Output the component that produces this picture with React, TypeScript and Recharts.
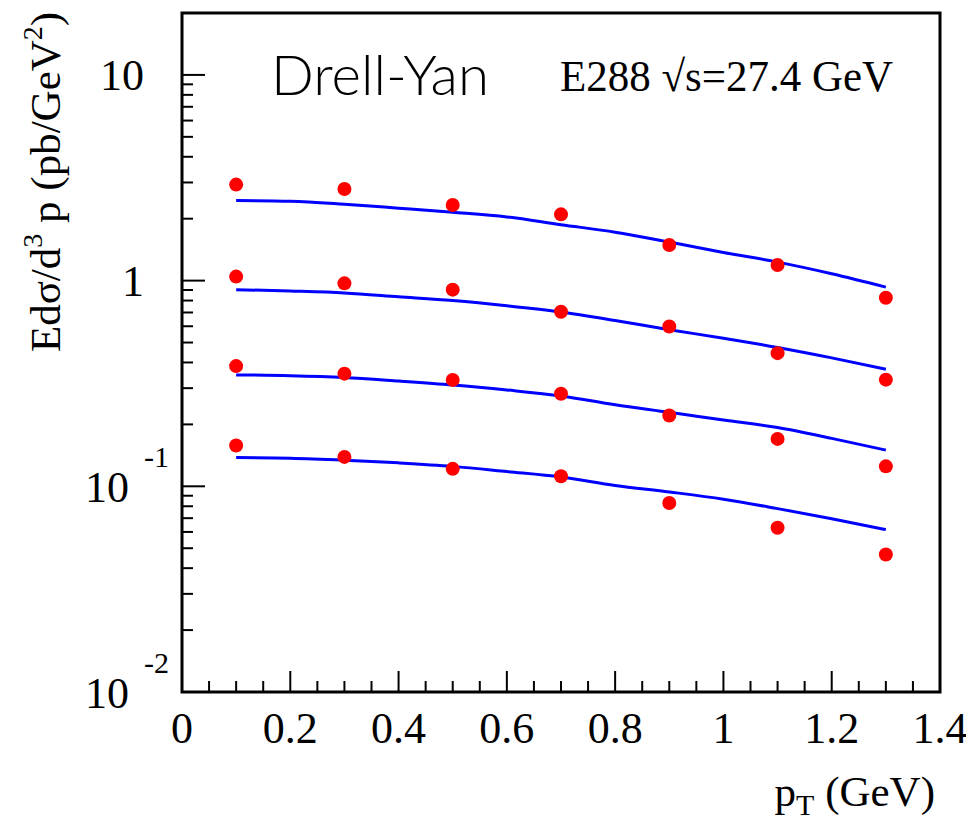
import React from 'react';
import { ComposedChart, Line, Scatter, XAxis, YAxis, ReferenceArea } from 'recharts';

// ---- data ----
const ptPoints = [0.1, 0.3, 0.5, 0.7, 0.9, 1.1, 1.3];
const dataSet1 = [2.93, 2.79, 2.33, 2.1, 1.49, 1.19, 0.826];
const dataSet2 = [1.046, 0.97, 0.904, 0.706, 0.598, 0.444, 0.33];
const dataSet3 = [0.384, 0.353, 0.329, 0.282, 0.221, 0.17, 0.125];
const dataSet4 = [0.158, 0.139, 0.1216, 0.112, 0.083, 0.0629, 0.0466];

const curveX = [0.1, 0.2, 0.3, 0.4, 0.5, 0.6, 0.7, 0.8, 0.9, 1.0, 1.1, 1.2, 1.3];
const curve1 = [2.45, 2.43, 2.35, 2.25, 2.15, 2.04, 1.87, 1.72, 1.54, 1.37, 1.23, 1.08, 0.93];
const curve2 = [0.904, 0.89, 0.871, 0.835, 0.8, 0.755, 0.704, 0.64, 0.577, 0.525, 0.473, 0.421, 0.371];
const curve3 = [0.348, 0.345, 0.338, 0.325, 0.311, 0.294, 0.275, 0.249, 0.229, 0.21, 0.193, 0.171, 0.15];
const curve4 = [0.138, 0.137, 0.134, 0.13, 0.125, 0.118, 0.111, 0.101, 0.0939, 0.0866, 0.0779, 0.0695, 0.0616];

const xTicks = [0, 0.05, 0.1, 0.15, 0.2, 0.25, 0.3, 0.35, 0.4, 0.45, 0.5, 0.55, 0.6, 0.65, 0.7, 0.75, 0.8, 0.85, 0.9, 0.95, 1.0, 1.05, 1.1, 1.15, 1.2, 1.25, 1.3, 1.35, 1.4];
const xMajorTicks = [0, 0.2, 0.4, 0.6, 0.8, 1, 1.2, 1.4];
const xTickLabels = ['0', '0.2', '0.4', '0.6', '0.8', '1', '1.2', '1.4'];

const yTicks = [
  0.01, 0.02, 0.03, 0.04, 0.05, 0.06, 0.07, 0.08, 0.09,
  0.1, 0.2, 0.3, 0.4, 0.5, 0.6, 0.7, 0.8, 0.9,
  1, 2, 3, 4, 5, 6, 7, 8, 9,
  10, 20,
];
const yMajorTicks = [0.01, 0.1, 1, 10];
const yTickBase = ['10', '10', '1', '10'];
const yTickExp = ['-2', '-1', '', ''];

const mk = (xs: number[], ys: number[]) => xs.map((x, i) => ({ x, y: ys[i] }));

const SERIF = '"Liberation Serif", "Times New Roman", serif';

const XTick = (props: any) => {
  const { x, y, payload } = props;
  const v = payload.value;
  const idx = xMajorTicks.findIndex((m) => Math.abs(m - v) < 1e-6);
  const major = idx >= 0;
  return (
    <g>
      <line x1={x} x2={x} y1={y} y2={y - (major ? 21 : 11)} stroke="#000" strokeWidth={2} />
      {major && (
        <text x={x} y={y + 51} textAnchor="middle" fontFamily={SERIF} fontSize={44} fill="#000">
          {xTickLabels[idx]}
        </text>
      )}
    </g>
  );
};

const YTick = (props: any) => {
  const { x, y, payload } = props;
  const v = payload.value;
  const idx = yMajorTicks.findIndex((m) => Math.abs(m - v) / m < 1e-6);
  const major = idx >= 0;
  let label: any = null;
  if (major) {
    const exp = yTickExp[idx];
    if (exp) {
      label = (
        <g>
          <text x={x - 53} y={y + 16} textAnchor="end" fontFamily={SERIF} fontSize={44} fill="#000">
            {yTickBase[idx]}
          </text>
          <text x={x - 38} y={y - 19} textAnchor="start" fontFamily={SERIF} fontSize={30} fill="#000">
            {exp}
          </text>
        </g>
      );
    } else {
      label = (
        <text x={x - 38} y={y + 15} textAnchor="end" fontFamily={SERIF} fontSize={44} fill="#000">
          {yTickBase[idx]}
        </text>
      );
    }
  }
  return (
    <g>
      <line x1={x} x2={x + (major ? 23 : 11)} y1={y} y2={y} stroke="#000" strokeWidth={2} />
      {label}
    </g>
  );
};

const Dot = (props: any) => {
  const { cx, cy } = props;
  if (cx == null || cy == null) return null;
  return <circle cx={cx} cy={cy} r={7} fill="#ff0000" />;
};

const curves = [curve1, curve2, curve3, curve4];
const points = [dataSet1, dataSet2, dataSet3, dataSet4];

export default function App() {
  return (
    <div style={{ position: 'absolute', left: 0, top: 0, width: 966, height: 821, background: '#fff' }}>
      <ComposedChart
        width={966}
        height={821}
        margin={{ top: 13, right: 26, bottom: 99, left: 122 }}
      >
        <XAxis
          dataKey="x"
          type="number"
          domain={[0, 1.4]}
          ticks={xTicks}
          interval={0}
          allowDataOverflow
          axisLine={false}
          tickLine={false}
          tickSize={0}
          tickMargin={0}
          height={30}
          tick={<XTick />}
        />
        <YAxis
          type="number"
          scale="log"
          domain={[0.01, 20]}
          ticks={yTicks}
          interval={0}
          allowDataOverflow
          axisLine={false}
          tickLine={false}
          tickSize={0}
          tickMargin={0}
          width={60}
          tick={<YTick />}
        />
        <ReferenceArea x1={0} x2={1.4} y1={0.01} y2={20} fill="none" fillOpacity={0} stroke="#000" strokeWidth={3} ifOverflow="visible" />
        {curves.map((c, i) => (
          <Line
            key={'c' + i}
            data={mk(curveX, c)}
            dataKey="y"
            type="monotone"
            stroke="#0000ff"
            strokeWidth={3}
            dot={false}
            activeDot={false}
            isAnimationActive={false}
          />
        ))}
        {points.map((p, i) => (
          <Scatter
            key={'p' + i}
            data={mk(ptPoints, p)}
            dataKey="y"
            fill="#ff0000"
            shape={<Dot />}
            isAnimationActive={false}
          />
        ))}
      </ComposedChart>
      <svg
        width={966}
        height={821}
        style={{ position: 'absolute', left: 0, top: 0, pointerEvents: 'none' }}
      >
        <text x={271} y={95} fontFamily="Lato, 'Open Sans', sans-serif" fontWeight={300} fontSize={55} fill="#000" textLength={218} lengthAdjust="spacingAndGlyphs">
          Drell-Yan
        </text>
        <text x={560} y={91} fontFamily={SERIF} fontSize={44} fill="#000" textLength={333} lengthAdjust="spacingAndGlyphs">
          E288 √s=27.4 GeV
        </text>
        <text x={935} y={806} textAnchor="end" fontFamily={SERIF} fontSize={43} fill="#000">
          p<tspan fontSize={30} dy={9}>T</tspan><tspan dy={-9}> (GeV)</tspan>
        </text>
        <text
          transform="translate(60,182) rotate(-90)"
          x={0}
          y={0}
          textAnchor="middle"
          fontFamily={SERIF}
          fontSize={43}
          fill="#000"
        >
          Edσ/d<tspan fontSize={28} dy={-18}>3</tspan><tspan dy={18}> p (pb/GeV</tspan><tspan fontSize={28} dy={-18}>2</tspan><tspan dy={18}>)</tspan>
        </text>
      </svg>
    </div>
  );
}
